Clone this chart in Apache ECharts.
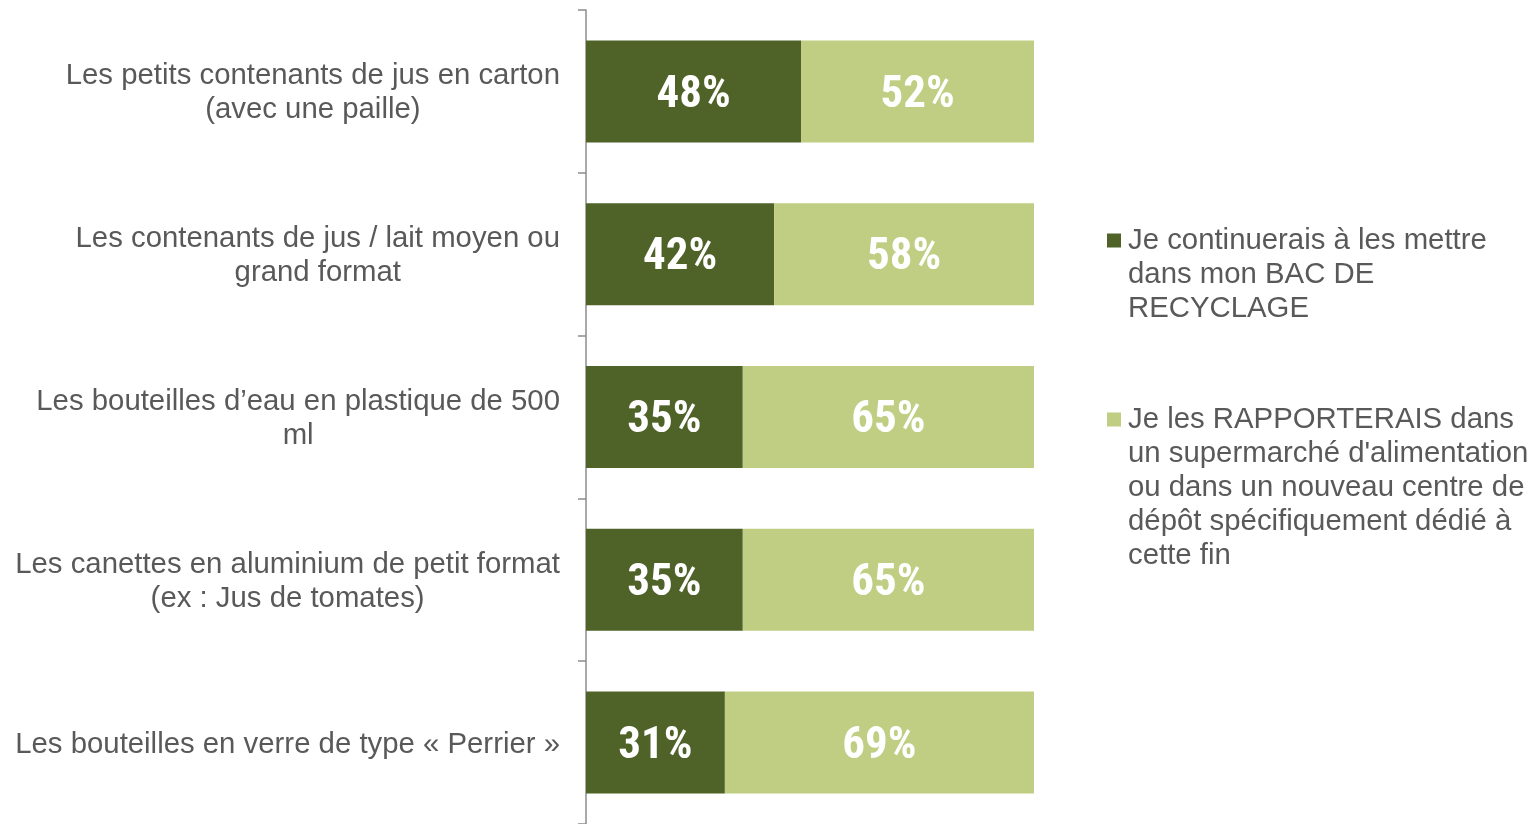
<!DOCTYPE html>
<html><head><meta charset="utf-8">
<script src="https://cdn.jsdelivr.net/npm/echarts@6/dist/echarts.min.js"></script>
<style>html,body{margin:0;padding:0;background:#fff;}#c{width:1533px;height:824px;}</style>
</head><body><div id="c"></div>
<script>
const categories = [
  "Les petits contenants de jus en carton\n(avec une paille)",
  "Les contenants de jus / lait moyen ou\ngrand format",
  "Les bouteilles d’eau en plastique de 500\nml",
  "Les canettes en aluminium de petit format\n(ex : Jus de tomates)",
  "Les bouteilles en verre de type « Perrier »"
];
const seriesNames = [
  "Je continuerais à les mettre dans mon BAC DE RECYCLAGE",
  "Je les RAPPORTERAIS dans un supermarché d'alimentation ou dans un nouveau centre de dépôt spécifiquement dédié à cette fin"
];
const legendLines = [
  ["Je continuerais à les mettre", "dans mon BAC DE", "RECYCLAGE"],
  ["Je les RAPPORTERAIS dans", "un supermarché d'alimentation", "ou dans un nouveau centre de", "dépôt spécifiquement dédié à", "cette fin"]
];
const recycleBin = [48, 42, 35, 35, 31];
const returnDepot = [52, 58, 65, 65, 69];
const colors = ["#4F6228", "#BFCE82"];

// pick an installed condensed font for the bar labels
function pickFont(cands, fallback) {
  const ctx = document.createElement('canvas').getContext('2d');
  const probe = '48% 52% abcXYZ';
  const base = {};
  ['monospace', 'serif'].forEach(g => { ctx.font = 'bold 42px ' + g; base[g] = ctx.measureText(probe).width; });
  for (const f of cands) {
    let ok = true;
    for (const g of ['monospace', 'serif']) {
      ctx.font = "bold 42px '" + f + "', " + g;
      if (Math.abs(ctx.measureText(probe).width - base[g]) < 0.5) ok = false;
    }
    if (ok) return "'" + f + "'";
  }
  return fallback;
}
const labelFont = pickFont(['Liberation Sans Narrow', 'Arial Narrow', 'Roboto Condensed', 'Noto Sans Condensed', 'Open Sans Condensed', 'Noto Sans SemiCondensed'], "'DejaVu Sans Condensed'");
const textFont = "'Liberation Sans', Arial, sans-serif";

const chart = echarts.init(document.getElementById('c'));

function barLabel() {
  return {
    show: true, position: 'inside', color: '#fff', fontFamily: labelFont,
    fontWeight: 'bold', fontSize: 45, offset: [0, 4], formatter: p => p.value + '%'
  };
}

chart.setOption({
  animation: false,
  grid: { left: 586, top: 10, width: 448, height: 815 },
  xAxis: { type: 'value', min: 0, max: 100, show: false },
  yAxis: {
    type: 'category', inverse: true, data: categories,
    axisLine: { show: true, lineStyle: { color: '#8C8C8C', width: 1.5 } },
    axisTick: { show: true, length: 8, alignWithLabel: false, lineStyle: { color: '#8C8C8C', width: 1.5 } },
    axisLabel: {
      margin: 26, color: '#595959', padding: [4, 0, 0, 0],
      formatter: v => v.split('\n').map(s => '{a|' + s + '}').join('\n'),
      rich: { a: { fontFamily: textFont, fontSize: 29.35, lineHeight: 34, color: '#595959', align: 'center' } }
    }
  },
  legend: {
    orient: 'vertical', left: 1102, top: 226, padding: 0, itemGap: 82,
    itemWidth: 0, itemHeight: 0, itemStyle: { opacity: 0 },
    data: seriesNames,
    formatter: name => {
      const i = seriesNames.indexOf(name);
      return legendLines[i].map((s, k) => (k === 0 ? '{sq' + i + '|}{g|}' : '{ind|}') + '{t|' + s + '}').join('\n');
    },
    textStyle: {
      color: '#595959',
      rich: {
        t: { fontFamily: textFont, fontSize: 29.35, lineHeight: 34, color: '#595959' },
        sq0: { width: 14, height: 14, backgroundColor: colors[0] },
        sq1: { width: 14, height: 14, backgroundColor: colors[1] },
        g: { width: 7 },
        ind: { width: 21 }
      }
    }
  },
  series: [
    { name: seriesNames[0], type: 'bar', stack: 's', data: recycleBin, barWidth: 102,
      itemStyle: { color: colors[0] }, label: barLabel() },
    { name: seriesNames[1], type: 'bar', stack: 's', data: returnDepot, barWidth: 102,
      itemStyle: { color: colors[1] }, label: barLabel() }
  ]
});
</script></body></html>
